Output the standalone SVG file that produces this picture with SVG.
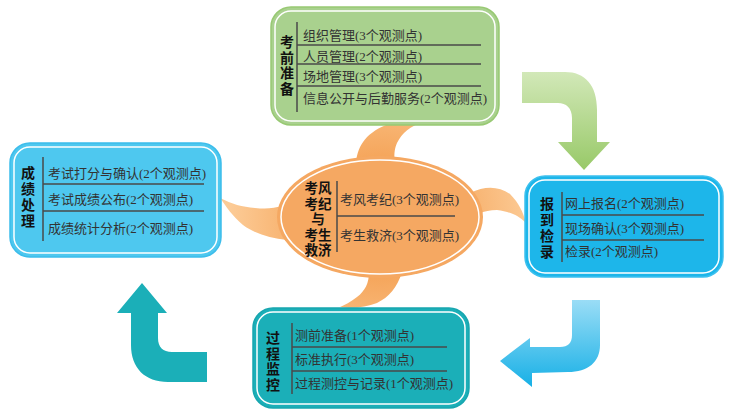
<svg xmlns="http://www.w3.org/2000/svg" width="734" height="417" viewBox="0 0 734 417">
<defs>
<linearGradient id="gGreen" x1="0" y1="0" x2="0" y2="1"><stop offset="0" stop-color="#D2E8B8"/><stop offset="1" stop-color="#98C968"/></linearGradient>
<linearGradient id="gBlue" x1="0" y1="0" x2="0" y2="1"><stop offset="0" stop-color="#9ADDF6"/><stop offset="1" stop-color="#17B0E6"/></linearGradient>
<radialGradient id="gOrange" cx="380" cy="217" r="150" gradientUnits="userSpaceOnUse"><stop offset="0.4" stop-color="#F5A65C"/><stop offset="1" stop-color="#FCCB96"/></radialGradient>
<style>
.item{font-family:"Liberation Serif","Noto Sans CJK SC",serif;font-size:13px;fill:#333;dominant-baseline:central}
.vtitle{font-family:"Noto Sans CJK SC",sans-serif;font-size:14px;font-weight:bold;fill:#111;text-anchor:middle;writing-mode:vertical-rl}
.ctitle{font-family:"Liberation Sans","Noto Sans CJK SC",sans-serif;font-size:13.5px;font-weight:bold;fill:#111;text-anchor:middle;dominant-baseline:central}
.div{stroke:#4a4a4a;stroke-width:1.5;fill:none}
.inner{fill:none;stroke:#fff;stroke-width:1.5}
</style>
</defs>
<rect width="734" height="417" fill="#fff"/>

<g id="connectors">
<path d="M522,72 L565,72 C585,72 597,85 597,110 L597,142 L610,142 L584,170 L558,142 L572,142 L572,118 C572,108 566,103 558,103 L522,103 Z" fill="url(#gGreen)"/>
<path d="M572,300 L600,300 L600,345 C600,362 588,372 568,372 L532,373 L532,387 L500,361 L530,338 L530,347 L560,347 C568,347 572,343 572,335 Z" fill="url(#gBlue)"/>
<path d="M207,352 L172,352 C163,352 158,347 158,338 L158,313 L167,313 L142,283 L117,313 L131,313 L131,345 C131,368 145,382 168,382 L207,382 Z" fill="#1BAFB8"/>
</g>

<g id="center">
<path d="M356,164 C357,148 364,134 386,125 C398,121 410,121 424,122 C410,126 402,133 397,143 C394,150 394,156 395,162 Z" fill="url(#gOrange)"/>
<path d="M470,193 C485,186 498,186 510,194 C519,203 523,212 526,223 C518,215 510,212 497,210 C490,210 485,211 478,214 Z" fill="url(#gOrange)"/>
<path d="M287,240 C270,238 255,234 243,225 C232,216 226,206 220,198 C232,204 242,207 255,208 C265,209 273,209 284,205 Z" fill="url(#gOrange)"/>
<path d="M369,272 C369,283 365,291 357,297 C350,302 345,305 340,307 C353,309 366,307 377,303 C389,297 397,288 402,272 Z" fill="url(#gOrange)"/>
<ellipse cx="380" cy="217" rx="103" ry="61" fill="#F5A862"/>
<ellipse cx="380" cy="217" rx="99" ry="57" class="inner"/>
<text class="ctitle"><tspan x="318" y="188">考风</tspan><tspan x="318" y="203.5">考纪</tspan><tspan x="318" y="219">与</tspan><tspan x="318" y="234.5">考生</tspan><tspan x="318" y="250">救济</tspan></text>
<path class="div" d="M337,181 V252 M337,216 H455"/>
<text class="item" x="340" y="199">考风考纪(3个观测点)</text>
<text class="item" x="340" y="235">考生救济(3个观测点)</text>
</g>

<g id="prep">
<rect x="271" y="7" width="228" height="118" rx="20" fill="#A9D18E" stroke="#98C973" stroke-width="1.5"/>
<rect x="275" y="11" width="220" height="110" rx="16" class="inner"/>
<text class="vtitle" x="287" y="66" letter-spacing="1.5">考前准备</text>
<path class="div" d="M297,22 V112 M297,45 H481 M297,64 H481 M297,86 H481"/>
<text class="item" x="303" y="35">组织管理(3个观测点)</text>
<text class="item" x="303" y="56">人员管理(2个观测点)</text>
<text class="item" x="303" y="76">场地管理(3个观测点)</text>
<text class="item" x="303" y="98">信息公开与后勤服务(2个观测点)</text>
</g>

<g id="register">
<rect x="525" y="176" width="198" height="101" rx="20" fill="#1DB6EA" stroke="#3CC0EE" stroke-width="1.5"/>
<rect x="529" y="180" width="190" height="93" rx="16" class="inner"/>
<text class="vtitle" x="547" y="229" letter-spacing="2">报到检录</text>
<path class="div" d="M562,192 V262 M562,215 H704 M562,240 H704"/>
<text class="item" x="565" y="203">网上报名(2个观测点)</text>
<text class="item" x="565" y="228">现场确认(3个观测点)</text>
<text class="item" x="565" y="251">检录(2个观测点)</text>
</g>

<g id="monitor">
<rect x="253" y="308" width="216" height="100" rx="20" fill="#1BAFB8" stroke="#18A6AF" stroke-width="1.5"/>
<rect x="257" y="312" width="208" height="92" rx="16" class="inner"/>
<text class="vtitle" x="273" y="362" letter-spacing="1.7">过程监控</text>
<path class="div" d="M292,323 V394 M292,347 H447 M292,371 H447"/>
<text class="item" x="295" y="335">测前准备(1个观测点)</text>
<text class="item" x="295" y="359">标准执行(3个观测点)</text>
<text class="item" x="295" y="383">过程测控与记录(1个观测点)</text>
</g>

<g id="result">
<rect x="10" y="143" width="211" height="114" rx="20" fill="#4EC8EF" stroke="#3DBDEB" stroke-width="1.5"/>
<rect x="14" y="147" width="203" height="106" rx="16" class="inner"/>
<text class="vtitle" x="28" y="198" letter-spacing="2">成绩处理</text>
<path class="div" d="M43,157 V241 M43,184 H204 M43,211 H204"/>
<text class="item" x="48" y="173">考试打分与确认(2个观测点)</text>
<text class="item" x="48" y="199">考试成绩公布(2个观测点)</text>
<text class="item" x="48" y="228">成绩统计分析(2个观测点)</text>
</g>
</svg>
